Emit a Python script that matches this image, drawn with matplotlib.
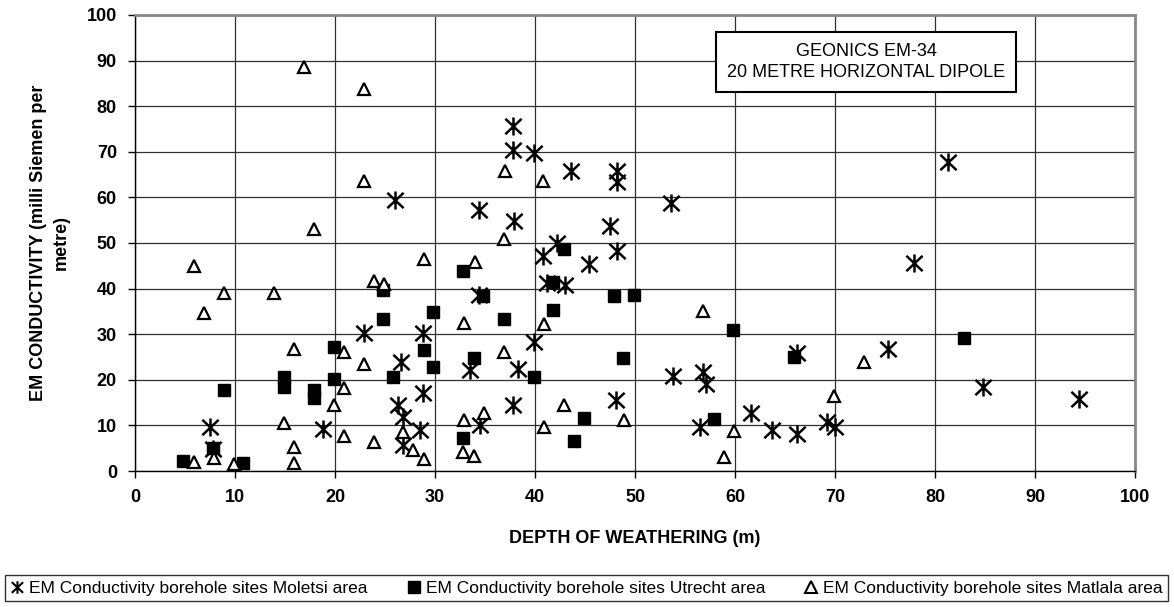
import numpy as np
import matplotlib
matplotlib.use("Agg")
import matplotlib.pyplot as plt
from matplotlib.path import Path
from matplotlib.lines import Line2D

plt.rcParams['font.family'] = ['Liberation Sans', 'DejaVu Sans']

# Moletsi area (asterisk)
mol_depth = [7.5, 7.8, 18.8, 22.9, 26.0, 26.6, 26.3, 26.8, 26.8, 28.5, 28.8, 28.8, 33.5,
             34.4, 34.4, 34.5, 37.8, 37.8, 37.9, 37.8, 38.3, 39.9, 39.9, 40.8, 41.2, 42.2,
             43.0, 43.6, 45.4, 47.5, 48.1, 48.2, 48.2, 48.2, 53.6, 53.8, 56.5, 56.8, 57.1,
             61.6, 63.7, 66.2, 66.2, 69.2, 70.0, 75.3, 77.9, 81.3, 84.8, 94.4]
mol_cond = [9.6, 4.8, 9.2, 30.3, 59.4, 24.0, 14.5, 11.8, 5.8, 9.0, 30.3, 17.1, 22.1,
            38.6, 57.2, 10.1, 75.7, 70.4, 54.8, 14.5, 22.4, 69.8, 28.3, 47.1, 41.2, 50.1,
            40.8, 65.8, 45.4, 53.8, 15.6, 65.8, 63.3, 48.2, 58.8, 20.8, 9.6, 21.7, 19.1,
            12.7, 8.9, 8.1, 25.9, 10.7, 9.6, 26.8, 45.6, 67.8, 18.5, 15.7]

# Utrecht area (filled square)
utr_depth = [4.8, 7.8, 8.9, 10.8, 14.9, 14.9, 17.9, 17.9, 19.9, 19.9, 24.8, 24.8, 25.8,
             28.9, 29.8, 29.8, 32.8, 32.8, 33.9, 34.8, 36.9, 39.9, 41.8, 41.8, 42.9, 43.9,
             44.9, 47.9, 48.8, 49.9, 57.9, 59.8, 65.9, 82.9]
utr_cond = [2.2, 5.0, 17.8, 1.7, 20.6, 18.4, 17.8, 16.0, 27.2, 20.2, 39.7, 33.3, 20.6,
            26.5, 34.9, 22.8, 43.9, 7.2, 24.8, 38.4, 33.3, 20.6, 41.4, 35.3, 48.7, 6.6,
            11.6, 38.4, 24.8, 38.6, 11.4, 30.9, 25.0, 29.1]

# Matlala area (open triangle)
mat_depth = [5.9, 6.9, 8.9, 13.9, 16.9, 17.9, 22.9, 22.9, 15.9, 14.9, 15.9, 15.9, 5.9,
             7.9, 9.9, 19.9, 20.9, 20.9, 20.9, 22.9, 23.9, 24.9, 23.9, 28.9, 34.0, 36.9,
             32.9, 40.9, 36.9, 32.9, 34.9, 32.8, 33.9, 26.8, 27.8, 28.9, 40.9, 42.9, 48.9,
             37.0, 40.8, 56.8, 72.9, 69.9, 59.9, 58.9]
mat_cond = [45.0, 34.7, 39.0, 39.0, 88.6, 53.1, 83.8, 63.6, 26.8, 10.5, 5.3, 1.7, 2.0,
            2.9, 1.5, 14.5, 26.1, 18.2, 7.7, 23.5, 41.7, 41.0, 6.4, 46.5, 45.8, 50.8,
            32.4, 32.2, 26.1, 11.2, 12.7, 4.2, 3.3, 8.6, 4.6, 2.6, 9.6, 14.5, 11.2,
            65.8, 63.6, 35.1, 23.9, 16.4, 8.8, 3.1]

labels = ['EM Conductivity borehole sites Moletsi area',
          'EM Conductivity borehole sites Utrecht area',
          'EM Conductivity borehole sites Matlala area']

# asterisk marker: X with vertical bar
star = Path([(0, -1), (0, 1), (-0.9, -0.85), (0.9, 0.85), (-0.9, 0.85), (0.9, -0.85)],
            [Path.MOVETO, Path.LINETO, Path.MOVETO, Path.LINETO, Path.MOVETO, Path.LINETO])

fig = plt.figure(figsize=(11.74, 6.07), dpi=100)
ax = fig.add_axes([135/1174, 1-471/607, 1000/1174, 456/607])

ax.plot(mol_depth, mol_cond, linestyle='none', marker=star, ms=13, mew=1.8,
        mec='black', mfc='none', zorder=3)
ax.plot(utr_depth, utr_cond, linestyle='none', marker='s', ms=8.5, mew=1,
        mec='black', mfc='black', zorder=4)
ax.plot(mat_depth, mat_cond, linestyle='none', marker='^', ms=9, mew=1.6,
        mec='black', mfc='white', zorder=5)

ax.set_xlim(0, 100)
ax.set_ylim(0, 100)
ax.set_xticks(np.arange(0, 101, 10))
ax.set_yticks(np.arange(0, 101, 10))
ax.grid(True, color='#303030', linewidth=0.9)
ax.set_axisbelow(True)
ax.tick_params(direction='out', length=5, width=1, labelsize=13, pad=8)
for lab in ax.get_xticklabels() + ax.get_yticklabels():
    lab.set_fontweight('bold')
for s in ['top', 'right']:
    ax.spines[s].set_color('#888888')
    ax.spines[s].set_linewidth(2)
for s in ['left', 'bottom']:
    ax.spines[s].set_color('black')
    ax.spines[s].set_linewidth(1)

ax.set_xlabel('DEPTH OF WEATHERING (m)', fontsize=13, fontweight='bold', labelpad=17)
ax.set_ylabel('EM CONDUCTIVITY (milli Siemen per\nmetre)', fontsize=13,
              fontweight='bold', labelpad=12, linespacing=1.45)

ax.text(73.1, 89.7, 'GEONICS EM-34\n20 METRE HORIZONTAL DIPOLE', ha='center', va='center',
        fontsize=13, linespacing=1.35, zorder=6,
        bbox=dict(boxstyle='square,pad=0.6', fc='white', ec='black', lw=1.5))

handles = [Line2D([], [], linestyle='none', marker=star, ms=9, mew=1.5, mec='black', mfc='none'),
           Line2D([], [], linestyle='none', marker='s', ms=8, mec='black', mfc='black'),
           Line2D([], [], linestyle='none', marker='^', ms=8, mew=1.5, mec='black', mfc='white')]
leg = fig.legend(handles, labels, loc='lower left',
                 bbox_to_anchor=(5/1174, 1-601/607, 1163/1174, 24/607), mode='expand',
                 ncol=3, borderaxespad=0, frameon=True, fancybox=False, edgecolor='black',
                 handlelength=0.8, handletextpad=0.3, columnspacing=0.8, borderpad=0.3,
                 prop={'size': 12.5})
leg.get_frame().set_linewidth(1)

fig.savefig('out.png', dpi=100)
